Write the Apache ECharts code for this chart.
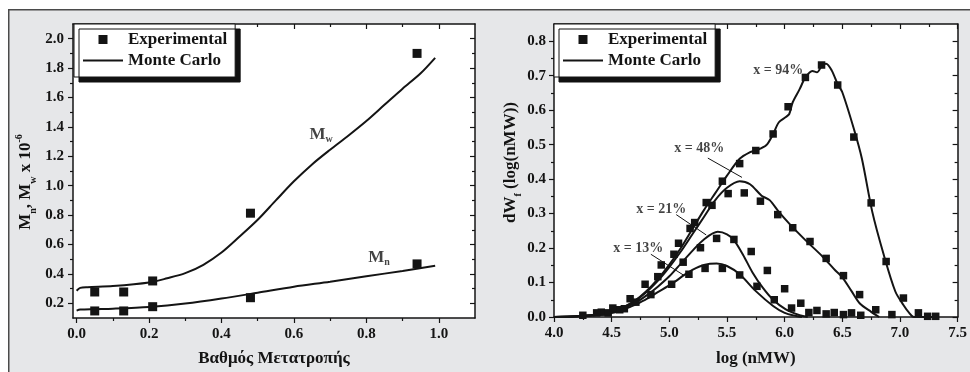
<!DOCTYPE html>
<html>
<head>
<meta charset="utf-8">
<script src="https://cdn.jsdelivr.net/npm/echarts@6/dist/echarts.min.js"></script>
<style>
  html, body { margin: 0; padding: 0; background: #fff; }
  #chart { width: 970px; height: 372px; }
</style>
</head>
<body>
<div id="chart"></div>
<script>
// ---------- Left panel: Mn / Mw versus conversion ----------
const convExp = [0.05, 0.13, 0.21, 0.48, 0.94];
const mwExp   = [0.277, 0.277, 0.352, 0.813, 1.90];
const mnExp   = [0.148, 0.148, 0.177, 0.238, 0.468];

const convMcW = [0.0, 0.01, 0.03, 0.1, 0.2, 0.25, 0.3, 0.35, 0.4, 0.45, 0.5, 0.55, 0.6, 0.65, 0.7, 0.75, 0.8, 0.85, 0.9, 0.95, 0.99];
const mwMc    = [0.285, 0.305, 0.31, 0.317, 0.341, 0.37, 0.405, 0.462, 0.545, 0.654, 0.768, 0.9, 1.03, 1.145, 1.245, 1.34, 1.44, 1.55, 1.66, 1.765, 1.87];
const convMcN = [0.0, 0.01, 0.05, 0.1, 0.2, 0.3, 0.4, 0.5, 0.6, 0.7, 0.8, 0.9, 0.99];
const mnMc    = [0.15, 0.157, 0.16, 0.163, 0.175, 0.198, 0.232, 0.272, 0.313, 0.347, 0.384, 0.42, 0.455];

const leftXLabels = [0.0, 0.2, 0.4, 0.6, 0.8, 1.0];
const leftXMinor  = [0.1, 0.3, 0.5, 0.7, 0.9];
const leftYLabels = [0.2, 0.4, 0.6, 0.8, 1.0, 1.2, 1.4, 1.6, 1.8, 2.0];
const leftYMinor  = [0.3, 0.5, 0.7, 0.9, 1.1, 1.3, 1.5, 1.7, 1.9];

// ---------- Right panel: molecular weight distributions ----------
const exp13X = [4.41, 4.57, 4.71, 4.84, 5.02, 5.17, 5.31, 5.46, 5.61, 5.76, 5.91, 6.06, 6.21, 6.36, 6.51, 6.66];
const exp13Y = [0.014, 0.021, 0.043, 0.065, 0.095, 0.124, 0.141, 0.141, 0.122, 0.089, 0.05, 0.026, 0.013, 0.009, 0.007, 0.005];
const exp21X = [4.47, 4.61, 5.12, 5.27, 5.41, 5.56, 5.71, 5.85, 6.0, 6.14, 6.28, 6.43, 6.58];
const exp21Y = [0.012, 0.024, 0.159, 0.201, 0.228, 0.225, 0.19, 0.135, 0.082, 0.04, 0.019, 0.013, 0.012];
const exp48X = [4.37, 4.66, 4.79, 4.93, 5.08, 5.22, 5.37, 5.51, 5.65, 5.79, 5.94, 6.07, 6.22, 6.36, 6.51, 6.65, 6.79, 6.93];
const exp48Y = [0.012, 0.053, 0.095, 0.151, 0.214, 0.274, 0.324, 0.358, 0.36, 0.336, 0.297, 0.259, 0.219, 0.17, 0.12, 0.065, 0.021, 0.007];
const exp94X = [4.25, 4.51, 4.9, 5.04, 5.18, 5.32, 5.46, 5.61, 5.75, 5.9, 6.03, 6.18, 6.32, 6.46, 6.6, 6.75, 6.88, 7.03, 7.16, 7.24, 7.31];
const exp94Y = [0.005, 0.026, 0.117, 0.182, 0.257, 0.332, 0.394, 0.445, 0.483, 0.531, 0.61, 0.695, 0.731, 0.673, 0.522, 0.331, 0.161, 0.055, 0.012, 0.002, 0.002];

const mc13X = [4.0, 4.27, 4.41, 4.56, 4.67, 4.79, 4.9, 5.02, 5.13, 5.2, 5.3, 5.41, 5.5, 5.61, 5.75, 5.9, 6.0, 6.1, 6.15];
const mc13Y = [0.0, 0.003, 0.007, 0.016, 0.031, 0.05, 0.072, 0.096, 0.122, 0.137, 0.151, 0.155, 0.148, 0.124, 0.075, 0.032, 0.012, 0.003, 0.0];
const mc21X = [4.0, 4.2, 4.4, 4.5, 4.6, 4.7, 4.8, 4.9, 5.0, 5.1, 5.2, 5.3, 5.42, 5.5, 5.56, 5.64, 5.72, 5.81, 5.9, 6.01, 6.13, 6.2];
const mc21Y = [0.0, 0.002, 0.007, 0.014, 0.025, 0.04, 0.062, 0.088, 0.118, 0.155, 0.192, 0.225, 0.247, 0.24, 0.223, 0.18, 0.13, 0.085, 0.05, 0.022, 0.005, 0.0];
const mc48X = [4.0, 4.2, 4.4, 4.5, 4.6, 4.7, 4.8, 4.9, 5.0, 5.1, 5.2, 5.3, 5.4, 5.5, 5.61, 5.7, 5.8, 5.87, 5.95, 6.04, 6.18, 6.33, 6.44, 6.5, 6.58, 6.65, 6.75, 6.82];
const mc48Y = [0.0, 0.002, 0.008, 0.016, 0.028, 0.046, 0.072, 0.105, 0.145, 0.19, 0.24, 0.29, 0.34, 0.375, 0.394, 0.385, 0.352, 0.339, 0.305, 0.271, 0.223, 0.175, 0.135, 0.115, 0.075, 0.04, 0.015, 0.0];
const mc94X = [4.0, 4.2, 4.4, 4.5, 4.6, 4.7, 4.8, 4.9, 5.0, 5.1, 5.2, 5.3, 5.4, 5.5, 5.61, 5.7, 5.75, 5.84, 5.9, 5.95, 6.01, 6.04, 6.07, 6.13, 6.18, 6.24, 6.28, 6.33, 6.36, 6.41, 6.46, 6.5, 6.6, 6.67, 6.76, 6.86, 6.96, 7.03, 7.08, 7.12, 7.3];
const mc94Y = [0.0, 0.002, 0.008, 0.016, 0.028, 0.047, 0.075, 0.11, 0.152, 0.2, 0.255, 0.31, 0.36, 0.41, 0.459, 0.478, 0.483, 0.498, 0.531, 0.565, 0.58, 0.589, 0.623, 0.661, 0.695, 0.714, 0.71, 0.733, 0.735, 0.714, 0.675, 0.652, 0.546, 0.459, 0.305, 0.18, 0.074, 0.035, 0.012, 0.0, 0.0];

const rightXLabels = [4.0, 4.5, 5.0, 5.5, 6.0, 6.5, 7.0, 7.5];
const rightXMinor  = [4.25, 4.75, 5.25, 5.75, 6.25, 6.75, 7.25];
const rightYLabels = [0.0, 0.1, 0.2, 0.3, 0.4, 0.5, 0.6, 0.7, 0.8];
const rightYMinor  = [0.05, 0.15, 0.25, 0.35, 0.45, 0.55, 0.65, 0.75];

// Curve captions and their pointer arrows (data coordinates)
const curveNotes = [
  { text: 'x = 94%', at: [5.945, 0.716] },
  { text: 'x = 48%', at: [5.26, 0.488] },
  { text: 'x = 21%', at: [4.93, 0.312] },
  { text: 'x = 13%', at: [4.73, 0.199] }
];
const noteArrows = [
  [[5.334, 0.461], [5.63, 0.405]],
  [[5.06, 0.297], [5.32, 0.238]],
  [[4.84, 0.182], [5.13, 0.12]]
];

const FONT = '"Liberation Serif", "Times New Roman", serif';
const INK = '#141414';

const pairs = (xs, ys) => xs.map((x, i) => [x, ys[i]]);

const richName = {
  m: { fontFamily: FONT, fontWeight: 'bold', fontSize: 17, color: INK, lineHeight: 24, verticalAlign: 'middle' },
  s: { fontFamily: FONT, fontWeight: 'bold', fontSize: 10, color: INK, lineHeight: 24, verticalAlign: 'bottom' },
  p: { fontFamily: FONT, fontWeight: 'bold', fontSize: 10, color: INK, lineHeight: 24, verticalAlign: 'top' }
};

// Four axes per direction: main line+labels, main minor ticks, mirrored line, mirrored minor ticks
function axisSet(dim, grid, min, max, major, minor, fmt, name, nameGap, labelMargin, namePad) {
  const main = dim === 'x' ? 'bottom' : 'left';
  const opp = dim === 'x' ? 'top' : 'right';
  const base = { type: 'value', gridIndex: grid, min: min, max: max, splitLine: { show: false }, silent: true };
  const line = { show: true, onZero: false, lineStyle: { color: INK, width: 1.5 } };
  const tickStyle = { color: INK, width: 1.2 };
  return [
    Object.assign({}, base, {
      position: main,
      axisLine: line,
      axisTick: { show: true, inside: false, length: 5, customValues: major, lineStyle: tickStyle },
      axisLabel: { show: true, customValues: major, formatter: fmt, margin: labelMargin,
                   fontFamily: FONT, fontWeight: 'bold', fontSize: 15, color: INK },
      name: name, nameLocation: 'middle', nameGap: nameGap,
      nameTextStyle: { fontFamily: FONT, fontWeight: 'bold', fontSize: 17, color: INK, rich: richName,
                       padding: namePad || 0 }
    }),
    Object.assign({}, base, {
      position: main,
      axisLine: { show: false, onZero: false },
      axisTick: { show: true, inside: false, length: 3, customValues: minor, lineStyle: tickStyle },
      axisLabel: { show: false }
    }),
    Object.assign({}, base, {
      position: opp,
      axisLine: line,
      axisTick: { show: true, inside: true, length: 5, customValues: major, lineStyle: tickStyle },
      axisLabel: { show: false }
    }),
    Object.assign({}, base, {
      position: opp,
      axisLine: { show: false, onZero: false },
      axisTick: { show: true, inside: true, length: 3, customValues: minor, lineStyle: tickStyle },
      axisLabel: { show: false }
    })
  ];
}

const fmt1 = v => v.toFixed(1);

const xAxes = [].concat(
  axisSet('x', 0, -0.01, 1.1, leftXLabels, leftXMinor, fmt1, 'Βαθμός Μετατροπής', 32, 9),
  axisSet('x', 1, 4.0, 7.5, rightXLabels, rightXMinor, fmt1, 'log (nMW)', 33, 9)
);
const yAxes = [].concat(
  axisSet('y', 0, 0.1, 2.1, leftYLabels, leftYMinor, fmt1,
          '{m|M}{s|n}{m|, M}{s|w}{m| x 10}{p|-6}', 35, 9, [0, 22, 0, 0]),
  axisSet('y', 1, 0.0, 0.85, rightYLabels, rightYMinor, fmt1,
          '{m|dW}{s|f}{m| (log(nMW))}', 31, 8, [0, 0, 0, 16])
);

function legendAt(left) {
  return {
    left: left, top: 24, orient: 'vertical',
    data: [
      { name: 'Experimental', icon: 'path://M0,0L10,0L10,10L0,10Z', itemStyle: { color: INK, opacity: 1 } },
      { name: 'Monte Carlo', itemStyle: { color: 'rgba(0,0,0,0)', opacity: 0, borderWidth: 0 } }
    ],
    itemWidth: 40, itemHeight: 9, itemGap: 4, symbolKeepAspect: true,
    padding: [7, 8, 8, 8],
    backgroundColor: '#fff', borderColor: INK, borderWidth: 1,
    shadowColor: '#111', shadowBlur: 0, shadowOffsetX: 5, shadowOffsetY: 5,
    selectedMode: false,
    textStyle: { fontFamily: FONT, fontWeight: 'bold', fontSize: 17, color: INK }
  };
}

function expSeries(xi, yi, data, size) {
  return {
    name: 'Experimental', type: 'scatter', xAxisIndex: xi, yAxisIndex: yi,
    symbol: 'rect', symbolSize: size, itemStyle: { color: INK, opacity: 1 }, data: data, z: 3
  };
}
function mcSeries(xi, yi, data) {
  return {
    name: 'Monte Carlo', type: 'line', xAxisIndex: xi, yAxisIndex: yi,
    symbol: 'none', smooth: 0.3, itemStyle: { color: INK },
    lineStyle: { color: INK, width: 2 }, data: data, z: 2
  };
}

const option = {
  animation: false,
  backgroundColor: '#fff',
  graphic: [{
    type: 'rect', left: 8, top: 9, z: -10, silent: true,
    shape: { width: 980, height: 400 },
    style: { fill: '#e6e7e9', stroke: '#4a4a4a', lineWidth: 1.5 }
  }],
  grid: [
    { left: 73, top: 24, width: 402, height: 294, show: true, backgroundColor: '#fff', borderWidth: 0 },
    { left: 554, top: 24, width: 405, height: 295, show: true, backgroundColor: '#fff', borderWidth: 0 }
  ],
  legend: [legendAt(74), legendAt(554)],
  xAxis: xAxes,
  yAxis: yAxes,
  series: [
    // left panel
    mcSeries(0, 0, pairs(convMcW, mwMc)),
    mcSeries(0, 0, pairs(convMcN, mnMc)),
    expSeries(0, 0, pairs(convExp, mwExp), 9),
    expSeries(0, 0, pairs(convExp, mnExp), 9),
    {
      type: 'scatter', xAxisIndex: 0, yAxisIndex: 0, silent: true,
      symbolSize: 1, itemStyle: { color: 'rgba(0,0,0,0)' },
      label: {
        show: true, position: 'inside', formatter: p => p.name,
        rich: {
          m: { fontFamily: FONT, fontWeight: 'bold', fontSize: 17, color: INK, lineHeight: 20, verticalAlign: 'middle' },
          s: { fontFamily: FONT, fontWeight: 'bold', fontSize: 10, color: INK, lineHeight: 20, verticalAlign: 'bottom' }
        }
      },
      data: [
        { value: [0.675, 1.35], name: '{m|M}{s|w}' },
        { value: [0.835, 0.51], name: '{m|M}{s|n}' }
      ]
    },
    // right panel
    mcSeries(4, 4, pairs(mc13X, mc13Y)),
    mcSeries(4, 4, pairs(mc21X, mc21Y)),
    mcSeries(4, 4, pairs(mc48X, mc48Y)),
    mcSeries(4, 4, pairs(mc94X, mc94Y)),
    expSeries(4, 4, pairs(exp13X, exp13Y), 7.5),
    expSeries(4, 4, pairs(exp21X, exp21Y), 7.5),
    expSeries(4, 4, pairs(exp48X, exp48Y), 7.5),
    expSeries(4, 4, pairs(exp94X, exp94Y), 7.5),
    {
      type: 'scatter', xAxisIndex: 4, yAxisIndex: 4, silent: true,
      symbolSize: 1, itemStyle: { color: 'rgba(0,0,0,0)' },
      label: { show: true, position: 'inside', fontSize: 14, fontFamily: FONT, fontWeight: 'bold', color: INK,
               formatter: p => p.name },
      data: curveNotes.map(n => ({ value: n.at, name: n.text })),
      markLine: {
        silent: true, symbol: ['none', 'arrow'], symbolSize: [0, 7],
        lineStyle: { color: INK, width: 1, type: 'solid' },
        label: { show: false },
        data: noteArrows.map(a => [{ coord: a[0] }, { coord: a[1] }])
      },
      z: 4
    }
  ]
};

const chart = echarts.init(document.getElementById('chart'), null, { renderer: 'canvas' });
chart.setOption(option);
</script>
</body>
</html>
